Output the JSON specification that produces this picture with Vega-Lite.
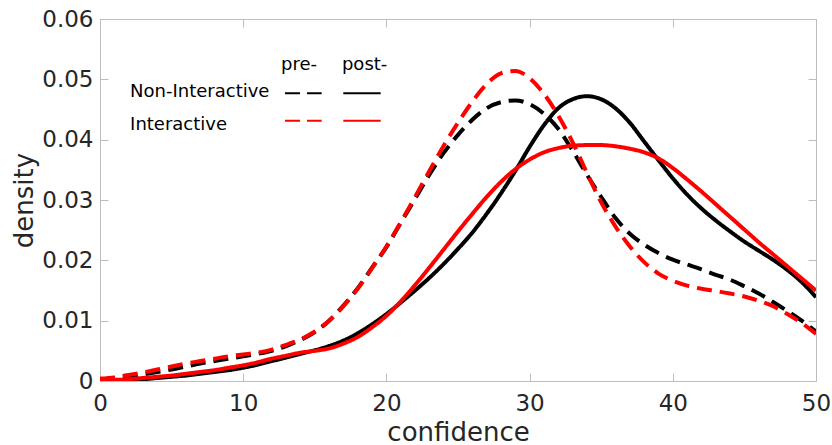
{
  "$schema": "https://vega.github.io/schema/vega-lite/v6.json",
  "width": 716,
  "height": 362,
  "autosize": {"type": "none"},
  "padding": {"left": 100, "top": 19, "right": 16, "bottom": 64},
  "background": "white",
  "config": {"view": {"stroke": null}, "font": "DejaVu Sans"},
  "datasets": {
    "one": [{"item": "annotation"}],
    "curves": [
    {"confidence": 0, "NI_pre": 0.0002, "NI_post": 0.0001, "I_pre": 0.0004, "I_post": 0.0002},
    {"confidence": 1, "NI_pre": 0.0004, "NI_post": 0.0001, "I_pre": 0.0006, "I_post": 0.0002},
    {"confidence": 2, "NI_pre": 0.0007, "NI_post": 0.0002, "I_pre": 0.0010, "I_post": 0.0003},
    {"confidence": 3, "NI_pre": 0.0011, "NI_post": 0.0003, "I_pre": 0.0014, "I_post": 0.0005},
    {"confidence": 4, "NI_pre": 0.0015, "NI_post": 0.0005, "I_pre": 0.0019, "I_post": 0.0007},
    {"confidence": 5, "NI_pre": 0.0019, "NI_post": 0.0007, "I_pre": 0.0024, "I_post": 0.0009},
    {"confidence": 6, "NI_pre": 0.0024, "NI_post": 0.0009, "I_pre": 0.0029, "I_post": 0.0012},
    {"confidence": 7, "NI_pre": 0.0029, "NI_post": 0.0012, "I_pre": 0.0033, "I_post": 0.0015},
    {"confidence": 8, "NI_pre": 0.0033, "NI_post": 0.0015, "I_pre": 0.0037, "I_post": 0.0018},
    {"confidence": 9, "NI_pre": 0.0037, "NI_post": 0.0018, "I_pre": 0.0041, "I_post": 0.0022},
    {"confidence": 10, "NI_pre": 0.0041, "NI_post": 0.0022, "I_pre": 0.0044, "I_post": 0.0026},
    {"confidence": 11, "NI_pre": 0.0045, "NI_post": 0.0027, "I_pre": 0.0047, "I_post": 0.0031},
    {"confidence": 12, "NI_pre": 0.0050, "NI_post": 0.0033, "I_pre": 0.0052, "I_post": 0.0037},
    {"confidence": 13, "NI_pre": 0.0058, "NI_post": 0.0039, "I_pre": 0.0060, "I_post": 0.0042},
    {"confidence": 14, "NI_pre": 0.0068, "NI_post": 0.0045, "I_pre": 0.0069, "I_post": 0.0047},
    {"confidence": 15, "NI_pre": 0.0081, "NI_post": 0.0051, "I_pre": 0.0082, "I_post": 0.0050},
    {"confidence": 16, "NI_pre": 0.0100, "NI_post": 0.0058, "I_pre": 0.0100, "I_post": 0.0054},
    {"confidence": 17, "NI_pre": 0.0125, "NI_post": 0.0067, "I_pre": 0.0124, "I_post": 0.0062},
    {"confidence": 18, "NI_pre": 0.0154, "NI_post": 0.0079, "I_pre": 0.0153, "I_post": 0.0073},
    {"confidence": 19, "NI_pre": 0.0188, "NI_post": 0.0094, "I_pre": 0.0187, "I_post": 0.0089},
    {"confidence": 20, "NI_pre": 0.0222, "NI_post": 0.0111, "I_pre": 0.0223, "I_post": 0.0108},
    {"confidence": 21, "NI_pre": 0.0262, "NI_post": 0.0130, "I_pre": 0.0263, "I_post": 0.0132},
    {"confidence": 22, "NI_pre": 0.0302, "NI_post": 0.0150, "I_pre": 0.0305, "I_post": 0.0159},
    {"confidence": 23, "NI_pre": 0.0342, "NI_post": 0.0171, "I_pre": 0.0348, "I_post": 0.0188},
    {"confidence": 24, "NI_pre": 0.0378, "NI_post": 0.0194, "I_pre": 0.0390, "I_post": 0.0218},
    {"confidence": 25, "NI_pre": 0.0408, "NI_post": 0.0219, "I_pre": 0.0428, "I_post": 0.0248},
    {"confidence": 26, "NI_pre": 0.0433, "NI_post": 0.0246, "I_pre": 0.0463, "I_post": 0.0277},
    {"confidence": 27, "NI_pre": 0.0452, "NI_post": 0.0277, "I_pre": 0.0492, "I_post": 0.0305},
    {"confidence": 28, "NI_pre": 0.0462, "NI_post": 0.0311, "I_pre": 0.0510, "I_post": 0.0330},
    {"confidence": 29, "NI_pre": 0.0465, "NI_post": 0.0348, "I_pre": 0.0514, "I_post": 0.0351},
    {"confidence": 30, "NI_pre": 0.0459, "NI_post": 0.0388, "I_pre": 0.0502, "I_post": 0.0367},
    {"confidence": 31, "NI_pre": 0.0443, "NI_post": 0.0424, "I_pre": 0.0476, "I_post": 0.0379},
    {"confidence": 32, "NI_pre": 0.0418, "NI_post": 0.0452, "I_pre": 0.0440, "I_post": 0.0386},
    {"confidence": 33, "NI_pre": 0.0382, "NI_post": 0.0467, "I_pre": 0.0396, "I_post": 0.0390},
    {"confidence": 34, "NI_pre": 0.0342, "NI_post": 0.0472, "I_pre": 0.0345, "I_post": 0.0391},
    {"confidence": 35, "NI_pre": 0.0305, "NI_post": 0.0467, "I_pre": 0.0296, "I_post": 0.0391},
    {"confidence": 36, "NI_pre": 0.0270, "NI_post": 0.0452, "I_pre": 0.0256, "I_post": 0.0389},
    {"confidence": 37, "NI_pre": 0.0244, "NI_post": 0.0428, "I_pre": 0.0223, "I_post": 0.0385},
    {"confidence": 38, "NI_pre": 0.0226, "NI_post": 0.0397, "I_pre": 0.0197, "I_post": 0.0379},
    {"confidence": 39, "NI_pre": 0.0212, "NI_post": 0.0366, "I_pre": 0.0178, "I_post": 0.0369},
    {"confidence": 40, "NI_pre": 0.0201, "NI_post": 0.0336, "I_pre": 0.0166, "I_post": 0.0353},
    {"confidence": 41, "NI_pre": 0.0193, "NI_post": 0.0309, "I_pre": 0.0158, "I_post": 0.0334},
    {"confidence": 42, "NI_pre": 0.0185, "NI_post": 0.0286, "I_pre": 0.0153, "I_post": 0.0314},
    {"confidence": 43, "NI_pre": 0.0176, "NI_post": 0.0266, "I_pre": 0.0149, "I_post": 0.0293},
    {"confidence": 44, "NI_pre": 0.0168, "NI_post": 0.0248, "I_pre": 0.0145, "I_post": 0.0272},
    {"confidence": 45, "NI_pre": 0.0157, "NI_post": 0.0231, "I_pre": 0.0140, "I_post": 0.0251},
    {"confidence": 46, "NI_pre": 0.0145, "NI_post": 0.0216, "I_pre": 0.0133, "I_post": 0.0230},
    {"confidence": 47, "NI_pre": 0.0131, "NI_post": 0.0201, "I_pre": 0.0124, "I_post": 0.0210},
    {"confidence": 48, "NI_pre": 0.0116, "NI_post": 0.0184, "I_pre": 0.0111, "I_post": 0.0190},
    {"confidence": 49, "NI_pre": 0.0100, "NI_post": 0.0164, "I_pre": 0.0096, "I_post": 0.0170},
    {"confidence": 50, "NI_pre": 0.0082, "NI_post": 0.0139, "I_pre": 0.0078, "I_post": 0.0150}
  ]},
  "resolve": {"axis": {"x": "independent", "y": "independent"}},
  "layer": [
    {
      "data": {"name": "curves"},
      "mark": {"type": "point", "opacity": 0},
      "encoding": {
        "x": {"field": "confidence", "type": "quantitative", "scale": {"domain": [0, 50], "nice": false, "zero": false},
          "axis": {"orient": "top", "values": [0, 10, 20, 30, 40, 50], "labels": false, "title": null, "domainColor": "#bdbdbd", "tickColor": "#bdbdbd", "tickSize": -8, "grid": false}},
        "y": {"field": "NI_pre", "type": "quantitative", "scale": {"domain": [0, 0.06], "nice": false, "zero": false},
          "axis": {"orient": "right", "values": [0, 0.01, 0.02, 0.03, 0.04, 0.05, 0.06], "labels": false, "title": null, "domainColor": "#bdbdbd", "tickColor": "#bdbdbd", "tickSize": -8, "grid": false}}
      }
    },
    {
      "data": {"name": "curves"},
      "transform": [{"fold": ["NI_pre", "NI_post", "I_pre", "I_post"], "as": ["series", "density"]}],
      "mark": {"type": "line", "strokeWidth": 4, "interpolate": "monotone", "clip": true},
      "encoding": {
        "x": {"field": "confidence", "type": "quantitative",
          "axis": {"orient": "bottom", "values": [0, 10, 20, 30, 40, 50], "format": "d", "title": "confidence", "titleFontSize": 26, "titleFontWeight": "normal", "titleColor": "#262626", "titlePadding": 4, "labelFontSize": 23, "labelColor": "#262626", "labelPadding": 19, "labelFlush": false, "domainColor": "#bdbdbd", "tickColor": "#bdbdbd", "tickSize": -8, "grid": false}},
        "y": {"field": "density", "type": "quantitative",
          "axis": {"orient": "left", "values": [0, 0.01, 0.02, 0.03, 0.04, 0.05, 0.06], "labelExpr": "datum.value == 0 ? '0' : format(datum.value, '.2f')", "title": "density", "titleFontSize": 26, "titleFontWeight": "normal", "titleColor": "#262626", "titlePadding": 4, "labelFontSize": 23, "labelColor": "#262626", "labelPadding": 15, "labelFlush": false, "domainColor": "#bdbdbd", "tickColor": "#bdbdbd", "tickSize": -8, "grid": false}},
        "color": {"field": "series", "type": "nominal", "scale": {"domain": ["NI_pre", "NI_post", "I_pre", "I_post"], "range": ["#000000", "#000000", "#ff0000", "#ff0000"]}, "legend": null},
        "strokeDash": {"field": "series", "type": "nominal", "scale": {"domain": ["NI_pre", "NI_post", "I_pre", "I_post"], "range": [[15, 8], [1, 0], [15, 8], [1, 0]]}, "legend": null}
      }
    },
    {
      "data": {"name": "one"},
      "mark": {"type": "text", "text": "pre-", "align": "center", "baseline": "alphabetic", "fontSize": 18, "color": "#000000"},
      "encoding": {"x": {"datum": 13.9, "type": "quantitative", "axis": null}, "y": {"datum": 0.0516, "type": "quantitative", "axis": null}}
    },
    {
      "data": {"name": "one"},
      "mark": {"type": "text", "text": "post-", "align": "center", "baseline": "alphabetic", "fontSize": 18, "color": "#000000"},
      "encoding": {"x": {"datum": 18.48, "type": "quantitative", "axis": null}, "y": {"datum": 0.0516, "type": "quantitative", "axis": null}}
    },
    {
      "data": {"name": "one"},
      "mark": {"type": "text", "text": "Non-Interactive", "align": "left", "baseline": "alphabetic", "fontSize": 18, "color": "#000000"},
      "encoding": {"x": {"datum": 2.1, "type": "quantitative", "axis": null}, "y": {"datum": 0.0471, "type": "quantitative", "axis": null}}
    },
    {
      "data": {"name": "one"},
      "mark": {"type": "text", "text": "Interactive", "align": "left", "baseline": "alphabetic", "fontSize": 18, "color": "#000000"},
      "encoding": {"x": {"datum": 2.1, "type": "quantitative", "axis": null}, "y": {"datum": 0.0416, "type": "quantitative", "axis": null}}
    },
    {
      "data": {"name": "one"},
      "mark": {"type": "rule", "strokeWidth": 2, "color": "#000000", "strokeDash": [15, 7]},
      "encoding": {"x": {"datum": 12.92, "type": "quantitative", "axis": null}, "x2": {"datum": 15.48}, "y": {"datum": 0.0477, "type": "quantitative", "axis": null}}
    },
    {
      "data": {"name": "one"},
      "mark": {"type": "rule", "strokeWidth": 2, "color": "#000000"},
      "encoding": {"x": {"datum": 16.99, "type": "quantitative", "axis": null}, "x2": {"datum": 19.6}, "y": {"datum": 0.0477, "type": "quantitative", "axis": null}}
    },
    {
      "data": {"name": "one"},
      "mark": {"type": "rule", "strokeWidth": 2, "color": "#ff0000", "strokeDash": [15, 7]},
      "encoding": {"x": {"datum": 12.92, "type": "quantitative", "axis": null}, "x2": {"datum": 15.48}, "y": {"datum": 0.04315, "type": "quantitative", "axis": null}}
    },
    {
      "data": {"name": "one"},
      "mark": {"type": "rule", "strokeWidth": 2, "color": "#ff0000"},
      "encoding": {"x": {"datum": 16.99, "type": "quantitative", "axis": null}, "x2": {"datum": 19.6}, "y": {"datum": 0.04315, "type": "quantitative", "axis": null}}
    }
  ]
}
